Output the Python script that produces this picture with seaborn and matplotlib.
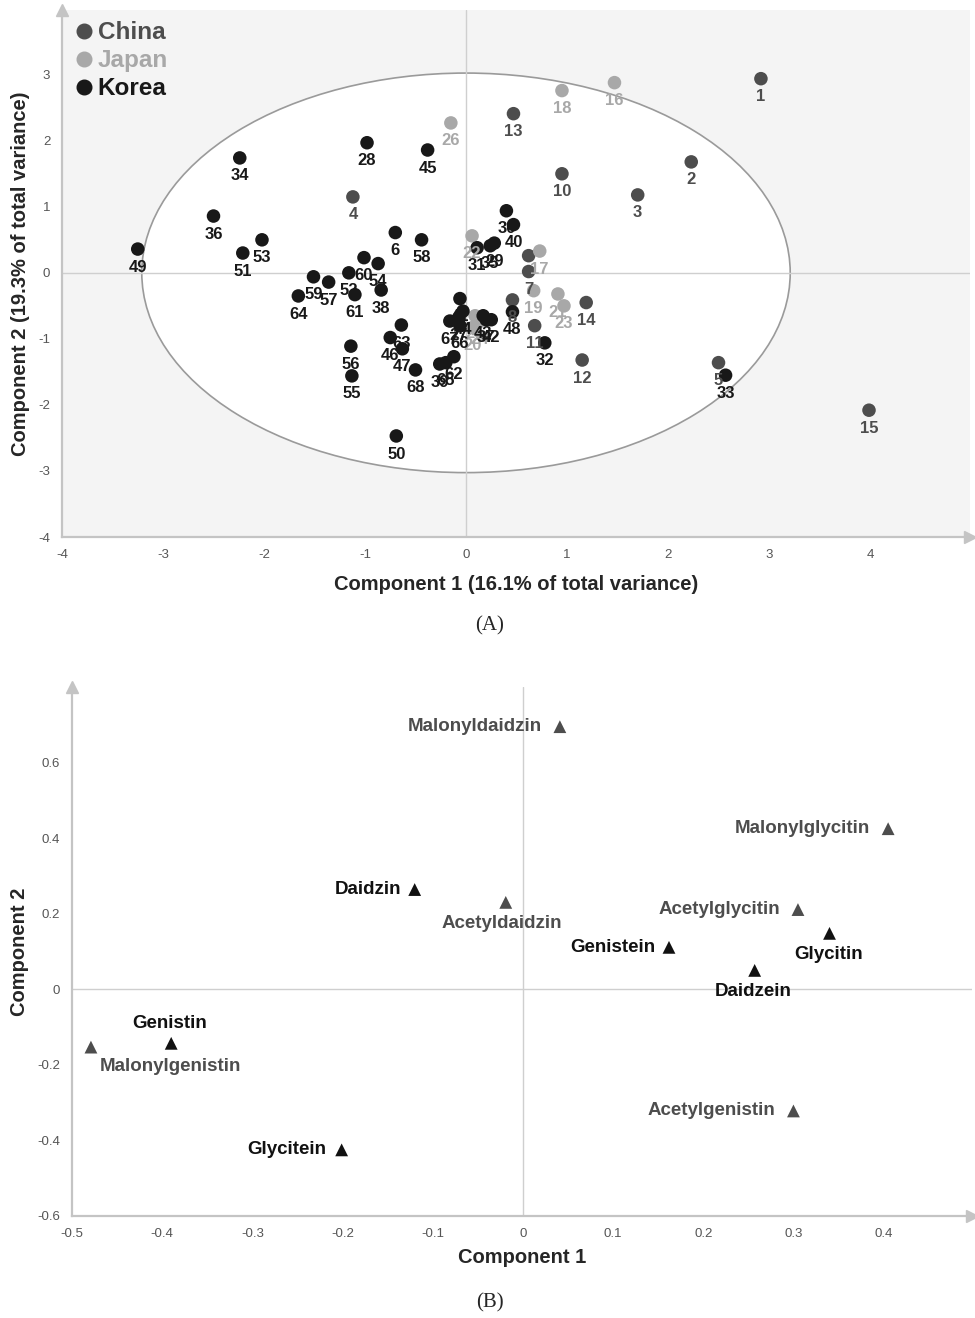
import numpy as np
import pandas as pd
import matplotlib
matplotlib.use("Agg")
import matplotlib.pyplot as plt
from matplotlib.patches import Ellipse
from matplotlib.lines import Line2D
from matplotlib.ticker import MultipleLocator, FuncFormatter
import seaborn as sns

# ---- dados do painel A (escores) ----
china_labels = ["1", "2", "3", "4", "5", "7", "8", "9", "10", "11", "12", "13", "14", "15"]
china_x = [2.92, 2.23, 1.70, -1.12, 2.50, 0.62, 0.46, 0.62, 0.95, 0.68, 1.15, 0.47, 1.19, 3.99]
china_y = [2.94, 1.68, 1.18, 1.15, -1.36, 0.02, -0.41, 0.26, 1.50, -0.80, -1.32, 2.41, -0.45, -2.08]

japan_labels = ["16", "17", "18", "19", "20", "21", "22", "23", "24", "25", "26"]
japan_x = [1.47, 0.73, 0.95, 0.67, 0.06, 0.91, 0.06, 0.97, 0.13, 0.09, -0.15]
japan_y = [2.88, 0.33, 2.76, -0.27, -0.83, -0.32, 0.56, -0.50, -0.74, -0.65, 2.27]

korea_labels = ["6", "27", "28", "29", "30", "31", "32", "33", "34", "35", "36", "37", "38",
                "39", "40", "41", "42", "43", "44", "45", "46", "47", "48", "49", "50", "51",
                "52", "53", "54", "55", "56", "57", "58", "59", "60", "61", "62", "63", "64",
                "65", "66", "67", "68"]
korea_x = [-0.70, -0.07, -0.98, 0.28, 0.40, 0.11, 0.78, 2.57, -2.24, 0.24, -2.50, 0.20, -0.84,
           -0.26, 0.47, -0.06, 0.25, 0.17, -0.03, -0.38, -0.75, -0.63, 0.46, -3.25, -0.69, -2.21,
           -1.16, -2.02, -0.87, -1.13, -1.14, -1.36, -0.44, -1.51, -1.01, -1.10, -0.12, -0.64, -1.66,
           -0.20, -0.06, -0.16, -0.50]
korea_y = [0.61, -0.68, 1.97, 0.45, 0.94, 0.38, -1.06, -1.55, 1.74, 0.41, 0.86, -0.71, -0.26,
           -1.38, 0.73, -0.39, -0.71, -0.65, -0.58, 1.86, -0.98, -1.15, -0.59, 0.36, -2.47, 0.30,
           0.00, 0.50, 0.14, -1.56, -1.11, -0.14, 0.50, -0.06, 0.23, -0.33, -1.27, -0.79, -0.35,
           -1.36, -0.80, -0.73, -1.47]

# ---- dados do painel B (cargas) ----
comp_names = ["Malonyldaidzin", "Malonylglycitin", "Daidzin", "Acetyldaidzin", "Acetylglycitin",
              "Glycitin", "Genistein", "Daidzein", "Genistin", "Malonylgenistin",
              "Acetylgenistin", "Glycitein"]
comp_x = [0.041, 0.405, -0.120, -0.019, 0.305, 0.340, 0.162, 0.257, -0.390, -0.479, 0.300, -0.201]
comp_y = [0.695, 0.425, 0.264, 0.230, 0.211, 0.148, 0.111, 0.050, -0.143, -0.153, -0.322, -0.425]
comp_group = ["malonyl/acetyl", "malonyl/acetyl", "base", "malonyl/acetyl", "malonyl/acetyl",
              "base", "base", "base", "base", "malonyl/acetyl", "malonyl/acetyl", "base"]

cores = {"China": "#4d4d4d", "Japan": "#a8a8a8", "Korea": "#181818"}
cores_b = {"base": "#111111", "malonyl/acetyl": "#4d4d4d"}

# posição dos rótulos no painel B: (dx, dy em pontos, alinhamento)
pos_b = {
    "Malonyldaidzin": (-13, 0, "right"), "Malonylglycitin": (-13, 0, "right"),
    "Daidzin": (-10, 0, "right"), "Acetyldaidzin": (-3, -15, "center"),
    "Acetylglycitin": (-13, 0, "right"), "Glycitin": (-1, -15, "center"),
    "Genistein": (-10, 0, "right"), "Daidzein": (-1, -15, "center"),
    "Genistin": (-1, 14, "center"), "Malonylgenistin": (6, -14, "left"),
    "Acetylgenistin": (-13, 0, "right"), "Glycitein": (-11, 0, "right"),
}

sns.set_style("white")
plt.rcParams["font.family"] = ["Liberation Sans", "DejaVu Sans"]
NARROW = ["Liberation Sans Narrow", "Liberation Sans", "DejaVu Sans"]
AXC = "#c4c4c4"


def fmt(v, p):
    return f"{round(v, 2) + 0:g}"


def estilo_eixos(ax, xmajor, xminor, ymajor, yminor):
    for s in ["top", "right"]:
        ax.spines[s].set_visible(False)
    for s in ["left", "bottom"]:
        ax.spines[s].set_color(AXC)
        ax.spines[s].set_linewidth(1.6)
    ax.xaxis.set_major_locator(MultipleLocator(xmajor))
    ax.xaxis.set_minor_locator(MultipleLocator(xminor))
    ax.yaxis.set_major_locator(MultipleLocator(ymajor))
    ax.yaxis.set_minor_locator(MultipleLocator(yminor))
    ax.tick_params(which="both", direction="out", color="#aaaaaa", labelcolor="#555555",
                   labelsize=9.5)
    ax.tick_params(which="major", length=5, width=1)
    ax.tick_params(which="minor", length=3, width=0.8)
    ax.xaxis.set_major_formatter(FuncFormatter(fmt))
    ax.yaxis.set_major_formatter(FuncFormatter(fmt))
    ax.plot(1, 0, marker=">", color=AXC, markersize=9, transform=ax.transAxes, clip_on=False)
    ax.plot(0, 1, marker="^", color=AXC, markersize=9, transform=ax.transAxes, clip_on=False)
    ax.axvline(0, color="#cfcfcf", lw=1, zorder=1)
    ax.axhline(0, color="#cfcfcf", lw=1, zorder=1)


def main():
    fig = plt.figure(figsize=(9.75, 13.18), dpi=100)

    # ---------------- painel A ----------------
    axA = fig.add_axes([62 / 975, 1 - 537 / 1318, 908 / 975, 527 / 1318])
    dfA = pd.DataFrame({
        "label": china_labels + japan_labels + korea_labels,
        "x": china_x + japan_x + korea_x,
        "y": china_y + japan_y + korea_y,
        "country": ["China"] * len(china_x) + ["Japan"] * len(japan_x) + ["Korea"] * len(korea_x),
    })
    axA.set_facecolor("#f4f4f4")
    axA.add_patch(Ellipse((0, 0), 6.42, 6.05, facecolor="white", edgecolor="#9a9a9a",
                          lw=1.2, zorder=0.5))
    sns.scatterplot(data=dfA, x="x", y="y", hue="country", palette=cores, s=95,
                    edgecolor="none", legend=False, ax=axA, zorder=3)
    for _, r in dfA.iterrows():
        axA.annotate(r["label"], (r["x"], r["y"]), xytext=(0, -13), textcoords="offset points",
                     ha="center", va="center", fontsize=12, fontweight="bold",
                     color=cores[r["country"]], family=NARROW, zorder=4)
    axA.set_xlim(-4, 4.99)
    axA.set_ylim(-4, 3.98)
    estilo_eixos(axA, 1, 0.5, 1, 0.5)
    axA.set_xlabel("Component 1 (16.1% of total variance)", fontsize=14.5, fontweight="bold",
                   labelpad=10)
    axA.set_ylabel("Component 2 (19.3% of total variance)", fontsize=14.5, fontweight="bold",
                   labelpad=6)

    handles = [Line2D([], [], marker="o", ls="", color=cores[c], markersize=10.5) for c in cores]
    leg = axA.legend(handles, list(cores), loc="upper left", bbox_to_anchor=(-0.009, 1.006),
                     frameon=False, prop={"weight": "bold", "size": 17.5},
                     handletextpad=-0.1, labelspacing=0.2, handlelength=1.3,
                     borderaxespad=0.2)
    for t, c in zip(leg.get_texts(), cores):
        t.set_color(cores[c])

    fig.text(490 / 975, 1 - 626 / 1318, "(A)", ha="center", va="center", fontsize=15,
             family=["Liberation Serif", "DejaVu Serif"])

    # ---------------- painel B ----------------
    axB = fig.add_axes([72 / 975, 1 - 1216 / 1318, 900 / 975, 529 / 1318])
    dfB = pd.DataFrame({"name": comp_names, "x": comp_x, "y": comp_y, "group": comp_group})
    sns.scatterplot(data=dfB, x="x", y="y", hue="group", palette=cores_b, marker="^", s=85,
                    edgecolor="none", legend=False, ax=axB, zorder=3)
    for _, r in dfB.iterrows():
        dx, dy, ha = pos_b[r["name"]]
        axB.annotate(r["name"], (r["x"], r["y"]), xytext=(dx, dy), textcoords="offset points",
                     ha=ha, va="center", fontsize=13.5, fontweight="bold",
                     color=cores_b[r["group"]], zorder=4)
    axB.set_xlim(-0.5, 0.498)
    axB.set_ylim(-0.6, 0.8)
    estilo_eixos(axB, 0.1, 0.05, 0.2, 0.1)
    axB.set_yticks([-0.6, -0.4, -0.2, 0, 0.2, 0.4, 0.6])
    axB.set_xticks(np.round(np.arange(-0.5, 0.45, 0.1), 1))
    axB.set_xlabel("Component 1", fontsize=14.5, fontweight="bold", labelpad=6)
    axB.set_ylabel("Component 2", fontsize=14.5, fontweight="bold", labelpad=6)

    fig.text(490 / 975, 1 - 1303 / 1318, "(B)", ha="center", va="center", fontsize=15,
             family=["Liberation Serif", "DejaVu Serif"])

    fig.savefig("out.png", dpi=100)


if __name__ == "__main__":
    main()
